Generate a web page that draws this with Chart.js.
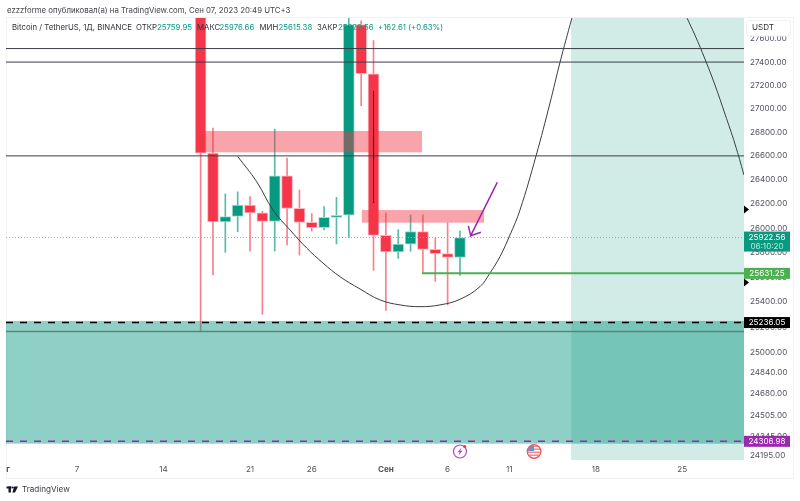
<!DOCTYPE html>
<html><head><meta charset="utf-8">
<style>html,body{margin:0;padding:0;background:#fff}canvas{display:block}</style>
<script src="https://cdn.jsdelivr.net/npm/chart.js@4"></script>
</head><body><canvas id="c" width="800" height="501" style="width:800px;height:501px"></canvas>
<script>
// Days counted from 1 Aug 2023 = 0
const days  = [16,17,18,19,20,21,22,23,24,25,26,27,28,29,30,31,32,33,34,35,36,37];
const opens = [28730,26623,26050,26096,26189,26126,26056,26432,26163,26047,26004,26089,26106,27727,27299,25940,25805,25869,25971,25826,25791,25759.95];
const highs = [28780,26835,26283,26300,26260,26140,26825,26582,26315,26120,26178,26254,28142,27760,27587,26125,25987,26108,26110,25917,26045,25976.66];
const lows  = [25166,25618,25802,25970,25812,25302,25812,25862,25780,25975,25985,25870,25922,27026,25655,25333,25752,25810,25634,25566,25376,25615.38];
const closes= [26623,26050,26096,26189,26126,26056,26432,26163,26047,26004,26089,26106,27727,27299,25940,25805,25869,25971,25826,25791,25760,25922.56];

const curveDays   = [19.0,20.54,21.86,23.24,24.59,25.91,27.29,28.91,30.53,32.15,33.77,35.38,37.0,38.62,39.43,40.24,41.05,41.86,43.16,44.29,45.1,46.05,46.18];
const curvePrices = [26595,26384,26149,25985,25837,25715,25604,25505,25417,25377,25363,25377,25422,25524,25634,25767,25944,26149,26600,27048,27398,27779,27835];
const arcDays     = [55.22,55.41,56.03,56.84,57.65,58.46,59.27,60];
const arcPrices   = [27835,27779,27634,27426,27202,26954,26700,26440];
const arrowDays   = [37.68,37.87,40.02,37.87,38.7];
const arrowPrices = [26018,25938,26379,25938,25966];
const blackLevels = [27517,27400,26600];
const stopLevel = 25236.05, targetLevel = 25631.25, purpleLevel = 24306.98, lastPrice = 25922.56, greyLevel = 25164;
const splitDay = 30, splitTop = 27150, splitBottom = 26207;

const zoneA = {d0:16,d1:33.93,top:26810,bottom:26630};
const zoneB = {d0:29.05,d1:38.95,top:26149,bottom:26045};
const zoneC = {top:25249,bottom:24289};
const zoneDStart = 46;

const yTicks = [27600,27400,27200,27000,26800,26600,26400,26200,26000,25800,25600,25400,25200,25000,24840,24680,24505,24345,24195];
const xTickDays   = [0.4,6,13,20,25,31,36,41,48,55];
const xTickLabels = ['г','7','14','21','26','Сен','6','11','18','25'];
const xMin = 0.24, xMax = 60, yMin = 24164, yMax = 27784;

const UP='#089981', DOWN='#f5364a', UPH='#a6dcd2', DOWNH='#fbb6bc', UPW='#5cb9a8', DOWNW='#f9808c';
const FONT='Inter, sans-serif', SIZE=8.1;
const pts=(xs,ys)=>xs.map((x,i)=>({x,y:ys[i]}));
const line=(data,color,width,extra={})=>({type:'line',data,borderColor:color,borderWidth:width,pointRadius:0,tension:0,fill:false,order:1,...extra});
const hline=(v,color,width,extra={},from=xMin)=>line([{x:from,y:v},{x:xMax,y:v}],color,width,extra);

const datasets=[
 {type:'bar',label:'wicks',data:days.map((d,i)=>({x:d,y:[lows[i],highs[i]]})),
  backgroundColor:days.map((d,i)=>closes[i]>=opens[i]?UPW:DOWNW),barThickness:1,grouped:false,order:5},
 {type:'bar',label:'bodies',data:days.map((d,i)=>({x:d,y:[opens[i],closes[i]]})),
  backgroundColor:days.map((d,i)=>closes[i]>=opens[i]?UP:DOWN),
  borderColor:days.map((d,i)=>closes[i]>=opens[i]?UPH:DOWNH),borderWidth:1,borderSkipped:false,barThickness:11,grouped:false,order:4},
 hline(lastPrice,'#6cc0b0',1,{borderDash:[1,2],order:3}),
 ...blackLevels.map(v=>hline(v,'#3a3d45',1)),
 hline(greyLevel,'#5d8379',1.5),
 hline(targetLevel,'#4caf50',2,{},33.93),
 hline(stopLevel,'#000000',1.5,{borderDash:[7,7]}),
 hline(purpleLevel,'#9c27b0',1.5,{borderDash:[7,7]}),
 line(pts(curveDays,curvePrices),'#3a3d45',1,{tension:0.4}),
 line(pts(arcDays,arcPrices),'#3a3d45',1,{tension:0.4}),
 line([{x:splitDay,y:splitTop},{x:splitDay,y:splitBottom}],'#1a1a1a',1),
 line(pts(arrowDays,arrowPrices),'#9c27b0',1.5),
];

const canvasPlugin={
 id:'tvOverlay',
 beforeDraw(chart){
  const g=chart.ctx;g.save();g.fillStyle='#fff';g.fillRect(0,0,800,501);
  g.strokeStyle='#eff1f4';g.lineWidth=1;g.strokeRect(6.5,17.5,787,461);g.restore();
 },
 afterDatasetDraw(chart,args){
  if(chart.data.datasets[args.index].label!=='bodies')return;
  const g=chart.ctx,X=chart.scales.x,Y=chart.scales.y,A=chart.chartArea;
  const rect=(x0,x1,t,b,c)=>{g.fillStyle=c;g.fillRect(x0,t,x1-x0,b-t);};
  g.save();g.beginPath();g.rect(A.left,A.top,A.right-A.left,A.bottom-A.top);g.clip();
  rect(X.getPixelForValue(zoneDStart),A.right,A.top,A.bottom,'rgba(8,153,129,0.19)');
  rect(A.left,A.right,Y.getPixelForValue(zoneC.top),Y.getPixelForValue(zoneC.bottom),'rgba(8,153,129,0.46)');
  for(const z of [zoneA,zoneB]) rect(X.getPixelForValue(z.d0),X.getPixelForValue(z.d1),Y.getPixelForValue(z.top),Y.getPixelForValue(z.bottom),'rgba(242,54,69,0.45)');
  g.restore();
 },
 afterDraw(chart){
  const g=chart.ctx,Y=chart.scales.y,X=chart.scales.x;
  const F=SIZE+'px '+FONT, H='7.8px '+FONT;
  const text=(s,x,y,c,f=F,al='left')=>{g.font=f;g.fillStyle=c;g.textAlign=al;g.textBaseline='middle';g.fillText(s,x,y);};
  g.save();
  // header
  text('ezzzforme опубликовал(а) на TradingView.com, Сен 07, 2023 20:49 UTC+3',7,10.5,'#40434b',H);
  text('Bitcoin / TetherUS, 1Д, BINANCE',12,28,'#2f323a',H);
  const L=[['ОТКР',136,'25759.95',157],['МАКС',197,'25976.66',219.5],['МИН',259.5,'25615.38',278.5],['ЗАКР',317,'25922.56',338]];
  for(const r of L){text(r[0],r[1],28,'#2f323a',H);text(r[2],r[3],28,UP,H);}
  text('+162.61 (+0.63%)',378,28,UP,H);
  // USDT box
  g.fillStyle='#fff';g.strokeStyle='#eef0f3';g.lineWidth=1;g.beginPath();g.roundRect(746.5,20.5,44,15.5,2);g.fill();g.stroke();
  text('USDT',752,28,'#2f323a');
  // price tags
  const tag=(v,c,h=11)=>{const y=Y.getPixelForValue(v);g.fillStyle=c;g.fillRect(744,y-h/2,46,h);text(v.toFixed(2),767,y+.5,'#fff',F,'center');};
  tag(targetLevel,'#4caf50');tag(stopLevel,'#000');tag(purpleLevel,'#9c27b0');
  const ly=Y.getPixelForValue(lastPrice);
  g.fillStyle=UP;g.fillRect(744,ly-6,46,20);
  text(lastPrice.toFixed(2),767,ly-.5,'#fff',F,'center');
  text('06:10:20',767,ly+8.5,'#bfe5dd',F,'center');
  // alert markers
  g.fillStyle='#000';
  for(const y of [209.5,282.5]){g.beginPath();g.moveTo(744,y-4);g.lineTo(749,y);g.lineTo(744,y+4);g.closePath();g.fill();}
  // event icons
  const e1=X.getPixelForValue(37),e2=X.getPixelForValue(43),ey=451.5;
  g.strokeStyle='#ab47bc';g.lineWidth=1.2;g.fillStyle='#fff';g.beginPath();g.arc(e1,ey,6.5,0,7);g.fill();g.stroke();
  g.fillStyle='#ab47bc';g.beginPath();g.moveTo(e1+1.5,ey-4);g.lineTo(e1-2.5,ey+.8);g.lineTo(e1-.2,ey+.8);g.lineTo(e1-1.5,ey+4);g.lineTo(e1+2.5,ey-.8);g.lineTo(e1+.2,ey-.8);g.closePath();g.fill();
  g.fillStyle='#f23645';g.beginPath();g.arc(e1+4.7,ey-5,1.6,0,7);g.fill();
  g.save();g.beginPath();g.arc(e2,ey,6.5,0,7);g.clip();
  g.fillStyle='#fff';g.fillRect(e2-7,ey-7,14,14);
  g.fillStyle='#f77c80';for(let i=-6;i<7;i+=3)g.fillRect(e2-7,ey+i,14,1.4);
  g.fillStyle='#5b9bd5';g.fillRect(e2-7,ey-7,7,6.5);g.restore();
  g.strokeStyle='#f7525f';g.lineWidth=1.3;g.beginPath();g.arc(e2,ey,6.8,0,7);g.stroke();
  // footer logo
  g.fillStyle='#131722';
  g.fillRect(6.5,486.5,5,2);g.fillRect(8.5,486.5,2.4,6);
  g.beginPath();g.arc(12.8,487.5,1,0,7);g.fill();
  g.beginPath();g.moveTo(14.2,486.5);g.lineTo(18,486.5);g.lineTo(15,492.5);g.lineTo(12.4,492.5);g.closePath();g.fill();
  text('TradingView',22,490,'#3a3d45',F);
  g.restore();
 }
};

new Chart(document.getElementById('c'),{
 data:{datasets},
 plugins:[canvasPlugin],
 options:{
  responsive:false,animation:false,devicePixelRatio:1,
  layout:{padding:{left:6,top:18,right:7,bottom:23}},
  plugins:{legend:{display:false},tooltip:{enabled:false},title:{display:false}},
  scales:{
   x:{type:'linear',min:xMin,max:xMax,offset:false,grid:{display:false,drawTicks:false},border:{display:false},
    afterBuildTicks(s){s.ticks=xTickDays.map(value=>({value}));},
    afterFit(s){s.height=18;},
    ticks:{autoSkip:false,maxRotation:0,minRotation:0,padding:5,color:'#50535e',
     font(c){const b=c.tick&&(c.tick.value===31||c.tick.value===0.4);return{family:FONT,size:SIZE,weight:b?'bold':'normal'};},
     callback(v){const i=xTickDays.indexOf(v);return i<0?'':xTickLabels[i];}}},
   y:{type:'logarithmic',position:'right',min:yMin,max:yMax,grid:{display:false,drawTicks:false},border:{display:false},
    afterBuildTicks(s){s.ticks=yTicks.map(value=>({value}));},
    afterFit(s){s.width=49;},
    ticks:{autoSkip:false,padding:6,color:'#50535e',font:{family:FONT,size:SIZE},callback(v){return Number(v).toFixed(2);}}}
  }
 }
});
</script></body></html>
